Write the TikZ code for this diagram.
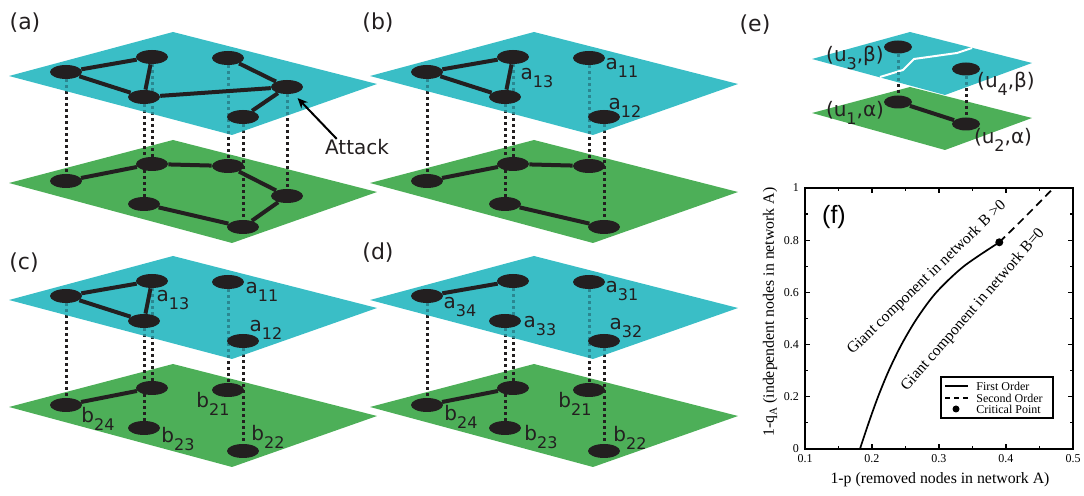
\documentclass[tikz,border=0pt]{standalone}
\usepackage{fontspec}
\setmainfont{DejaVu Sans}
\newfontfamily\plotfont{Liberation Serif}
\newfontfamily\headfont{Liberation Sans}
\usetikzlibrary{shapes.geometric}
\usetikzlibrary{arrows.meta}

\definecolor{topcyan}{RGB}{58,190,198}
\definecolor{botgreen}{RGB}{77,175,88}
\definecolor{vtxdark}{RGB}{35,31,32}
\definecolor{deptint}{RGB}{42,135,145}

\pgfdeclarelayer{lowerplane}
\pgfdeclarelayer{blackdep}
\pgfdeclarelayer{upperplane}
\pgfdeclarelayer{tealdep}
\pgfsetlayers{lowerplane,blackdep,upperplane,tealdep,main}

\newcommand{\lowidx}[1]{\raisebox{-4pt}{\fontsize{8}{8}\selectfont #1}}
\newcommand{\upperlayer}[1]{\path[#1] (9,76) -- (173,32) -- (377,84) -- (232,135) -- cycle;}
\newcommand{\lowerlayer}[1]{\path[#1] (9,183) -- (173,140) -- (377,192) -- (232,243) -- cycle;}

\tikzset{
  vtx/.style={ellipse, fill=vtxdark, inner sep=0pt, minimum width=16pt, minimum height=7pt},
  vtxsmall/.style={vtx, minimum width=14pt, minimum height=6.5pt},
  link/.style={draw=vtxdark, line width=2pt},
  dep/.style={draw=vtxdark, line width=1.5pt, dash pattern=on 1.5pt off 1.5pt},
  depfaint/.style={dep, draw=deptint},
  cyanplane/.style={fill=topcyan},
  greenplane/.style={fill=botgreen},
  lbl/.style={font=\fontsize{10}{12}\selectfont, inner sep=0pt, text=vtxdark},
  tag/.style={font=\fontsize{11}{13}\selectfont, inner sep=0pt, text=vtxdark},
  curve/.style={line width=0.85pt},
  ticklbl/.style={font=\plotfont\fontsize{6}{7}\selectfont, inner sep=0pt},
  axislbl/.style={font=\plotfont\fontsize{7.9}{9}\selectfont, inner sep=0pt},
  regionlbl/.style={font=\plotfont\fontsize{7.8}{9}\selectfont, inner sep=0pt},
  legendtxt/.style={font=\plotfont\fontsize{6}{7}\selectfont, inner sep=0pt, anchor=west},
}

\begin{document}
\begin{tikzpicture}[x=0.5pt, y=-0.5pt]
\useasboundingbox (0,0) rectangle (1084,496);

% panel tags
\node[tag] (tagA) at (25,23) {(a)};
\node[tag] (tagB) at (378,23) {(b)};
\node[tag] (tagC) at (24,263) {(c)};
\node[tag] (tagD) at (378,253) {(d)};
\node[tag] (tagE) at (755,25) {(e)};

% (a) the attack
\begin{scope}
\node[vtx] (aU1) at (66,72) {};
\node[vtx] (aU2) at (152,57) {};
\node[vtx] (aU3) at (144,97) {};
\node[vtx] (aU4) at (228,58) {};
\node[vtx] (aU5) at (287,87) {};
\node[vtx] (aU6) at (243,117) {};
\node[vtx] (aL1) at (66,181) {};
\node[vtx] (aL2) at (152,164) {};
\node[vtx] (aL3) at (228,166) {};
\node[vtx] (aL4) at (287,196) {};
\node[vtx] (aL5) at (144,204) {};
\node[vtx] (aL6) at (243,227) {};
\draw[link] (aU1) -- (aU2) -- (aU3) -- (aU1);
\draw[link] (aU3) -- (aU5) -- (aU4) (aU5) -- (aU6);
\draw[link] (aL1) -- (aL2) -- (aL3) -- (aL4) -- (aL6) -- (aL5);
\node[lbl] (attack) at (357,147) {Attack};
\draw[-{Stealth[length=5pt,width=4.5pt]}, line width=1pt, shorten >=3pt] ([xshift=6pt]attack.north west) -- (aU5);
\begin{pgfonlayer}{lowerplane}\lowerlayer{greenplane}\end{pgfonlayer}
\begin{pgfonlayer}{upperplane}\upperlayer{cyanplane}\end{pgfonlayer}
\begin{pgfonlayer}{blackdep}
\draw[dep] (aU1.south) -- (aL1.north) (aU2.south) -- (aL2.north) (aU3.south) -- (aL5.north);
\draw[dep] (aU4.south) -- (aL3.north) (aU5.south) -- (aL4.north) (aU6.south) -- (aL6.north);
\end{pgfonlayer}
\begin{pgfonlayer}{tealdep}
\begin{scope}
\upperlayer{clip}
\draw[depfaint] (aU1.south) -- (aL1.north) (aU2.south) -- (aL2.north) (aU3.south) -- (aL5.north);
\draw[depfaint] (aU4.south) -- (aL3.north) (aU5.south) -- (aL4.north) (aU6.south) -- (aL6.north);
\end{scope}
\end{pgfonlayer}
\end{scope}

% (b) after the first cascade
\begin{scope}[shift={(361,0)}]
\node[vtx] (bU1) at (66,72) {};
\node[vtx] (bU2) at (152,57) {};
\node[vtx] (bU3) at (144,97) {};
\node[vtx] (bU4) at (228,58) {};
\node[vtx] (bU6) at (243,117) {};
\node[vtx] (bL1) at (66,181) {};
\node[vtx] (bL2) at (152,164) {};
\node[vtx] (bL3) at (228,166) {};
\node[vtx] (bL5) at (144,204) {};
\node[vtx] (bL6) at (243,227) {};
\draw[link] (bU1) -- (bU2) -- (bU3) -- (bU1);
\draw[link] (bL1) -- (bL2) -- (bL3) (bL5) -- (bL6);
\node[lbl] (bA13) at (176,78) {a\lowidx{13}};
\node[lbl] (bA11) at (261,68) {a\lowidx{11}};
\node[lbl] (bA12) at (264,108) {a\lowidx{12}};
\begin{pgfonlayer}{lowerplane}\lowerlayer{greenplane}\end{pgfonlayer}
\begin{pgfonlayer}{upperplane}\upperlayer{cyanplane}\end{pgfonlayer}
\begin{pgfonlayer}{blackdep}
\draw[dep] (bU1.south) -- (bL1.north) (bU2.south) -- (bL2.north) (bU3.south) -- (bL5.north);
\draw[dep] (bU4.south) -- (bL3.north) (bU6.south) -- (bL6.north);
\end{pgfonlayer}
\begin{pgfonlayer}{tealdep}
\begin{scope}
\upperlayer{clip}
\draw[depfaint] (bU1.south) -- (bL1.north) (bU2.south) -- (bL2.north) (bU3.south) -- (bL5.north);
\draw[depfaint] (bU4.south) -- (bL3.north) (bU6.south) -- (bL6.north);
\end{scope}
\end{pgfonlayer}
\end{scope}

% (c)
\begin{scope}[shift={(0,224)}]
\node[vtx] (cU1) at (66,72) {};
\node[vtx] (cU2) at (152,57) {};
\node[vtx] (cU3) at (144,97) {};
\node[vtx] (cU4) at (228,58) {};
\node[vtx] (cU6) at (243,117) {};
\node[vtx] (cL1) at (66,181) {};
\node[vtx] (cL2) at (152,164) {};
\node[vtx] (cL3) at (228,166) {};
\node[vtx] (cL5) at (144,204) {};
\node[vtx] (cL6) at (243,227) {};
\draw[link] (cU1) -- (cU2) -- (cU3) -- (cU1);
\draw[link] (cL1) -- (cL2);
\node[lbl] (cA13) at (173,76) {a\lowidx{13}};
\node[lbl] (cA11) at (262,68) {a\lowidx{11}};
\node[lbl] (cA12) at (266,106) {a\lowidx{12}};
\node[lbl] (cB24) at (98,195) {b\lowidx{24}};
\node[lbl] (cB23) at (178,215) {b\lowidx{23}};
\node[lbl] (cB21) at (213,180) {b\lowidx{21}};
\node[lbl] (cB22) at (268,213) {b\lowidx{22}};
\begin{pgfonlayer}{lowerplane}\lowerlayer{greenplane}\end{pgfonlayer}
\begin{pgfonlayer}{upperplane}\upperlayer{cyanplane}\end{pgfonlayer}
\begin{pgfonlayer}{blackdep}
\draw[dep] (cU1.south) -- (cL1.north) (cU2.south) -- (cL2.north) (cU3.south) -- (cL5.north);
\draw[dep] (cU4.south) -- (cL3.north) (cU6.south) -- (cL6.north);
\end{pgfonlayer}
\begin{pgfonlayer}{tealdep}
\begin{scope}
\upperlayer{clip}
\draw[depfaint] (cU1.south) -- (cL1.north) (cU2.south) -- (cL2.north) (cU3.south) -- (cL5.north);
\draw[depfaint] (cU4.south) -- (cL3.north) (cU6.south) -- (cL6.north);
\end{scope}
\end{pgfonlayer}
\end{scope}

% (d)
\begin{scope}[shift={(361,224)}]
\node[vtx] (dU1) at (66,72) {};
\node[vtx] (dU2) at (152,57) {};
\node[vtx] (dU3) at (144,97) {};
\node[vtx] (dU4) at (228,58) {};
\node[vtx] (dU6) at (243,117) {};
\node[vtx] (dL1) at (66,181) {};
\node[vtx] (dL2) at (152,164) {};
\node[vtx] (dL3) at (228,166) {};
\node[vtx] (dL5) at (144,204) {};
\node[vtx] (dL6) at (243,227) {};
\draw[link] (dU1) -- (dU2);
\draw[link] (dL1) -- (dL2);
\node[lbl] (dA34) at (99,83) {a\lowidx{34}};
\node[lbl] (dA33) at (179,102) {a\lowidx{33}};
\node[lbl] (dA31) at (261,67) {a\lowidx{31}};
\node[lbl] (dA32) at (265,104) {a\lowidx{32}};
\node[lbl] (dB24) at (100,193) {b\lowidx{24}};
\node[lbl] (dB23) at (180,213) {b\lowidx{23}};
\node[lbl] (dB21) at (214,180) {b\lowidx{21}};
\node[lbl] (dB22) at (269,214) {b\lowidx{22}};
\begin{pgfonlayer}{lowerplane}\lowerlayer{greenplane}\end{pgfonlayer}
\begin{pgfonlayer}{upperplane}\upperlayer{cyanplane}\end{pgfonlayer}
\begin{pgfonlayer}{blackdep}
\draw[dep] (dU1.south) -- (dL1.north) (dU2.south) -- (dL2.north) (dU3.south) -- (dL5.north);
\draw[dep] (dU4.south) -- (dL3.north) (dU6.south) -- (dL6.north);
\end{pgfonlayer}
\begin{pgfonlayer}{tealdep}
\begin{scope}
\upperlayer{clip}
\draw[depfaint] (dU1.south) -- (dL1.north) (dU2.south) -- (dL2.north) (dU3.south) -- (dL5.north);
\draw[depfaint] (dU4.south) -- (dL3.north) (dU6.south) -- (dL6.north);
\end{scope}
\end{pgfonlayer}
\end{scope}

% (e) node pairs
\node[vtxsmall] (u3) at (898,47) {};
\node[vtxsmall] (u4) at (966,69) {};
\node[vtxsmall] (u1) at (898,102) {};
\node[vtxsmall] (u2) at (966,124) {};
\draw[link] (u1) -- (u2);
\node[lbl] (u3lbl) at (855,58) {(u\lowidx{3},β)};
\node[lbl] (u4lbl) at (1006,84) {(u\lowidx{4},β)};
\node[lbl] (u1lbl) at (855,113) {(u\lowidx{1},α)};
\node[lbl] (u2lbl) at (1003,140) {(u\lowidx{2},α)};
\begin{pgfonlayer}{lowerplane}
\fill[botgreen] (812,113) -- (910,87) -- (1032,118) -- (945,150) -- cycle;
\end{pgfonlayer}
\begin{pgfonlayer}{upperplane}
\fill[topcyan] (812,59) -- (910,32) -- (1032,63) -- (945,95) -- cycle;
\draw[white, line width=1pt] (880,77) -- (903,70) -- (914,59) -- (957,53) -- (972,48);
\end{pgfonlayer}
\begin{pgfonlayer}{blackdep}
\draw[dep] (u3.south) -- (u1.north) (u4.south) -- (u2.north);
\end{pgfonlayer}
\begin{pgfonlayer}{tealdep}
\begin{scope}
\clip (812,59) -- (910,32) -- (1032,63) -- (945,95) -- cycle;
\draw[depfaint] (u3.south) -- (u1.north) (u4.south) -- (u2.north);
\end{scope}
\end{pgfonlayer}

% (f) phase diagram
\node[font=\headfont\fontsize{12.5}{14}\selectfont, inner sep=0pt] (tagF) at (834,217) {(f)};
\begin{scope}[shift={(738,449)}, xscale=670, yscale=-261]
\draw[line width=0.9pt] (0.1,0) rectangle (0.5,1);
\foreach \t in {0.2,0.3,0.4} \draw[line width=0.6pt] (\t,0) -- ++(0,0.019) (\t,1) -- ++(0,-0.019);
\foreach \t in {0.15,0.25,0.35,0.45} \draw[line width=0.6pt] (\t,0) -- ++(0,0.011) (\t,1) -- ++(0,-0.011);
\foreach \t in {0.2,0.4,0.6,0.8} \draw[line width=0.6pt] (0.1,\t) -- ++(0.0075,0) (0.5,\t) -- ++(-0.0075,0);
\foreach \t in {0.1,0.3,0.5,0.7,0.9} \draw[line width=0.6pt] (0.1,\t) -- ++(0.0045,0) (0.5,\t) -- ++(-0.0045,0);
\foreach \t in {0.1,0.2,0.3,0.4,0.5} \node[ticklbl, anchor=north] at (\t,-0.02) {\t};
\foreach \t in {0,0.2,0.4,0.6,0.8,1} \node[ticklbl, anchor=east] at (0.0915,\t) {\t};
\draw[curve] plot[smooth] coordinates {(0.182,0) (0.195,0.1) (0.209,0.2) (0.225,0.3) (0.244,0.4) (0.267,0.5) (0.296,0.6) (0.337,0.7) (0.39,0.792)};
\draw[curve, dash pattern=on 4pt off 2.5pt] plot[smooth] coordinates {(0.39,0.792) (0.43,0.893) (0.471,1)};
\node[circle, fill, inner sep=0pt, minimum size=4pt] (crit) at (0.39,0.792) {};
\end{scope}
\node[regionlbl, rotate=44] (upperregion) at (927,278) {Giant component in network B >0};
\node[regionlbl, rotate=49] (lowerregion) at (973,310) {Giant component in network B=0};
\node[axislbl] (xlabel) at (940,480) {1-p (removed nodes in network A)};
\node[axislbl, rotate=90] (ylabel) at (770,312) {1-q\raisebox{-1.5pt}{\fontsize{5.5}{6}\selectfont A} (independent nodes in network A)};
% legend
\draw[line width=0.7pt] (941,377) rectangle (1053,418);
\draw[curve] (945,386) -- (968,386);
\draw[curve, dash pattern=on 2.5pt off 2pt] (945,398) -- (968,398);
\fill (956,409) circle (1.75pt);
\node[legendtxt] (lgFirst) at (976,386) {First Order};
\node[legendtxt] (lgSecond) at (976,398) {Second Order};
\node[legendtxt] (lgCrit) at (976,409) {Critical Point};
\end{tikzpicture}
\end{document}
